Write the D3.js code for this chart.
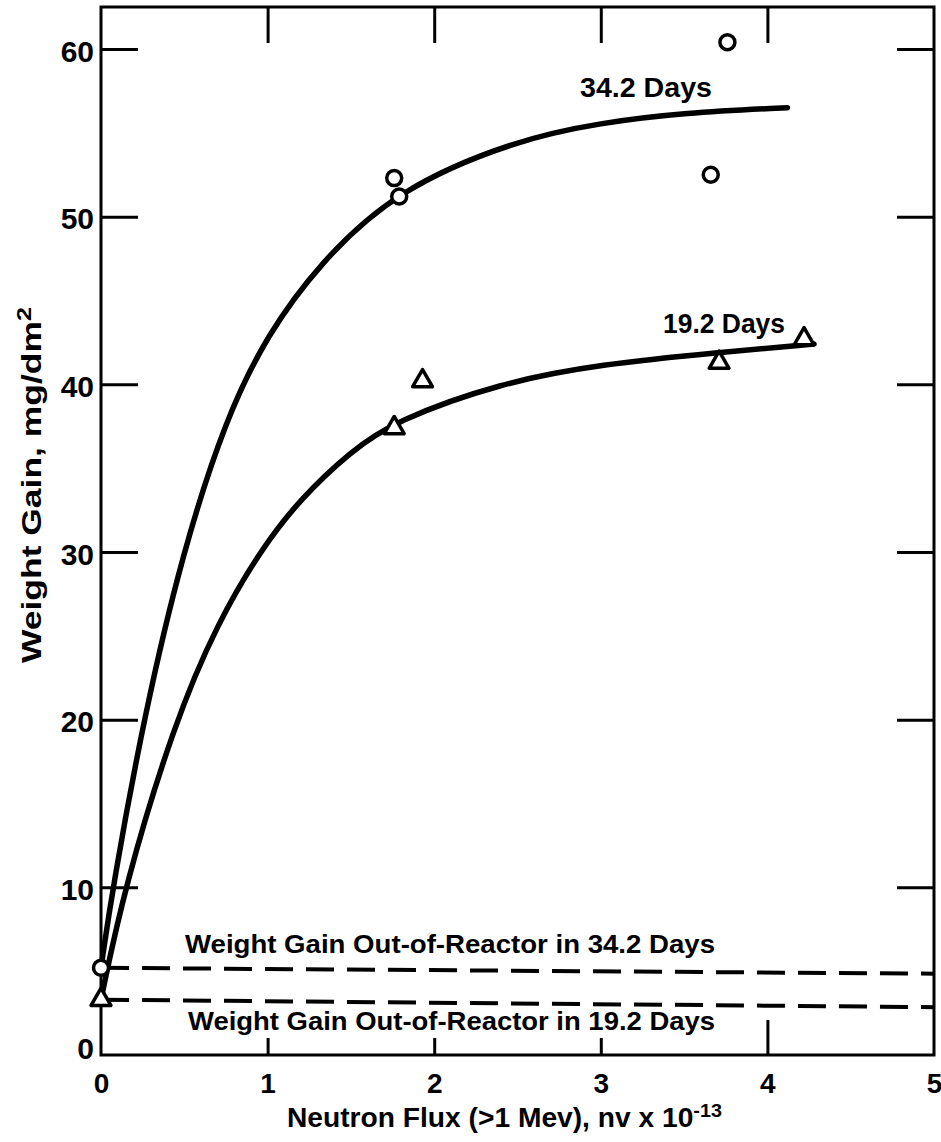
<!DOCTYPE html>
<html>
<head>
<meta charset="utf-8">
<script src="https://cdn.jsdelivr.net/npm/d3@7"></script>
<style>
  body { margin: 0; background: #fff; }
  svg { display: block; }
  text { font-family: "Liberation Sans", Arial, sans-serif; font-weight: bold; fill: #000; }
</style>
</head>
<body>
<svg id="chart" width="941" height="1142"></svg>
<script>
///////////////////////////////////////////
// Data
///////////////////////////////////////////
var xTicks = [0, 1, 2, 3, 4, 5];
var yTicks = [0, 10, 20, 30, 40, 50, 60];

// measured points
var days34Points = [[0, 5.2], [1.76, 52.3], [1.79, 51.2], [3.66, 52.5], [3.76, 60.4]];
var days19Points = [[0, 3.3], [1.76, 37.4], [1.93, 40.2], [3.71, 41.3], [4.22, 42.7]];

// hand-drawn fitted curves
var days34Curve = [[0, 5.2], [0.07, 10], [0.26, 20.3], [0.49, 30], [0.75, 38], [1.0, 43],
                   [1.31, 47.2], [1.77, 51.6], [2.5, 54.6], [3.0, 55.6], [3.5, 56.2], [4.12, 56.5]];
var days19Curve = [[0, 3.3], [0.14, 10], [0.44, 19.8], [0.7, 25.8], [0.97, 30.3], [1.2, 33.2],
                   [1.5, 36.0], [1.76, 37.8], [2.4, 40.1], [3.0, 41.2], [3.71, 41.9], [4.28, 42.4]];

// out-of-reactor weight gain (dashed)
var outOfReactor34 = [[0, 5.2], [5, 4.85]];
var outOfReactor19 = [[0, 3.3], [5, 2.85]];

///////////////////////////////////////////
// Chart
///////////////////////////////////////////
var svg = d3.select("#chart");
var plotLeft = 101, plotRight = 934, plotTop = 7, plotBottom = 1055;

var x = d3.scaleLinear().domain([0, 5]).range([plotLeft, plotRight]);
var y = d3.scaleLinear().domain([0, 60]).range([plotBottom, 49]);

var line = d3.line()
    .x(function(d) { return x(d[0]); })
    .y(function(d) { return y(d[1]); });

// frame
svg.append("rect")
    .attr("x", plotLeft).attr("y", plotTop)
    .attr("width", plotRight - plotLeft).attr("height", plotBottom - plotTop)
    .attr("fill", "none").attr("stroke", "#000").attr("stroke-width", 3);

function inwardTicks(g) {
  g.select(".domain").remove();
  g.selectAll(".tick line").attr("stroke", "#000").attr("stroke-width", 3);
}

// left / right inward ticks
svg.append("g").attr("transform", "translate(" + plotLeft + ",0)")
    .call(d3.axisRight(y).tickValues(yTicks.slice(1)).tickSize(37).tickFormat(""))
    .call(inwardTicks);
svg.append("g").attr("transform", "translate(" + plotRight + ",0)")
    .call(d3.axisLeft(y).tickValues(yTicks.slice(1)).tickSize(37).tickFormat(""))
    .call(inwardTicks);

// top / bottom inward ticks
svg.append("g").attr("transform", "translate(0," + plotTop + ")")
    .call(d3.axisBottom(x).tickValues(xTicks.slice(1, 5)).tickSize(36).tickFormat(""))
    .call(inwardTicks);
svg.append("g").attr("transform", "translate(0," + plotBottom + ")")
    .call(d3.axisTop(x).tickValues(xTicks.slice(1, 5)).tickSize(17).tickFormat(""))
    .call(inwardTicks)
    .selectAll(".tick line").attr("y2", function(d) { return d === 4 ? -35 : -17; });

// tick labels
svg.append("g").attr("transform", "translate(" + plotLeft + ",0)")
    .call(d3.axisLeft(y).tickValues(yTicks).tickSize(0).tickPadding(7))
    .call(function(g) {
      g.select(".domain").remove();
      g.selectAll("text").attr("font-size", 30).attr("fill", "#000")
          .attr("font-family", null)
          .attr("dy", function(d) { return d === 0 ? "0.1em" : "0.4em"; });
    });

svg.append("g").attr("transform", "translate(0," + plotBottom + ")")
    .call(d3.axisBottom(x).tickValues(xTicks).tickSize(0).tickPadding(18)
          .tickFormat(d3.format("d")))
    .call(function(g) {
      g.select(".domain").remove();
      g.selectAll("text").attr("font-size", 28).attr("fill", "#000").attr("font-family", null);
    });

// axis titles
var xt = svg.append("text")
    .attr("x", 287).attr("y", 1127)
    .attr("font-size", 27)
    .attr("textLength", 435).attr("lengthAdjust", "spacingAndGlyphs");
xt.append("tspan").text("Neutron Flux (>1 Mev), nv x 10");
xt.append("tspan").attr("dy", -10).attr("font-size", 19).text("-13");

var yt = svg.append("text")
    .attr("transform", "translate(41,663) rotate(-90)")
    .attr("font-size", 28)
    .attr("textLength", 356).attr("lengthAdjust", "spacingAndGlyphs");
yt.append("tspan").text("Weight Gain, mg/dm");
yt.append("tspan").attr("dy", -10).attr("font-size", 20).text("2");

// dashed out-of-reactor lines
[outOfReactor34, outOfReactor19].forEach(function(d) {
  svg.append("path").datum(d)
      .attr("d", line)
      .attr("fill", "none").attr("stroke", "#000")
      .attr("stroke-width", 4)
      .attr("stroke-dasharray", "28,13");
});

svg.append("text").attr("x", 185).attr("y", 953).attr("font-size", 26)
    .attr("textLength", 530).attr("lengthAdjust", "spacingAndGlyphs")
    .text("Weight Gain Out-of-Reactor in 34.2 Days");
svg.append("text").attr("x", 188).attr("y", 1030).attr("font-size", 26)
    .attr("textLength", 527).attr("lengthAdjust", "spacingAndGlyphs")
    .text("Weight Gain Out-of-Reactor in 19.2 Days");

// curves
var smooth = d3.line().curve(d3.curveBasis)
    .x(function(d) { return x(d[0]); })
    .y(function(d) { return y(d[1]); });

[days34Curve, days19Curve].forEach(function(d) {
  svg.append("path").datum(d)
      .attr("d", smooth)
      .attr("fill", "none").attr("stroke", "#000")
      .attr("stroke-width", 5.5).attr("stroke-linecap", "round");
});

svg.append("text").attr("x", 580).attr("y", 97).attr("font-size", 28)
    .attr("textLength", 132).attr("lengthAdjust", "spacingAndGlyphs")
    .text("34.2 Days");
svg.append("text").attr("x", 663).attr("y", 333).attr("font-size", 28)
    .attr("textLength", 122).attr("lengthAdjust", "spacingAndGlyphs")
    .text("19.2 Days");

// markers
svg.selectAll(".c34").data(days34Points).enter().append("circle")
    .attr("class", "c34")
    .attr("cx", function(d) { return x(d[0]); })
    .attr("cy", function(d) { return y(d[1]); })
    .attr("r", 7.5)
    .attr("fill", "#fff").attr("stroke", "#000").attr("stroke-width", 3.5);

var tri = d3.symbol().type(d3.symbolTriangle).size(170);
svg.selectAll(".t19").data(days19Points).enter().append("path")
    .attr("class", "t19")
    .attr("transform", function(d) { return "translate(" + x(d[0]) + "," + y(d[1]) + ")"; })
    .attr("d", tri)
    .attr("fill", "#fff").attr("stroke", "#000").attr("stroke-width", 3.5)
    .attr("stroke-linejoin", "round");
</script>
</body>
</html>
